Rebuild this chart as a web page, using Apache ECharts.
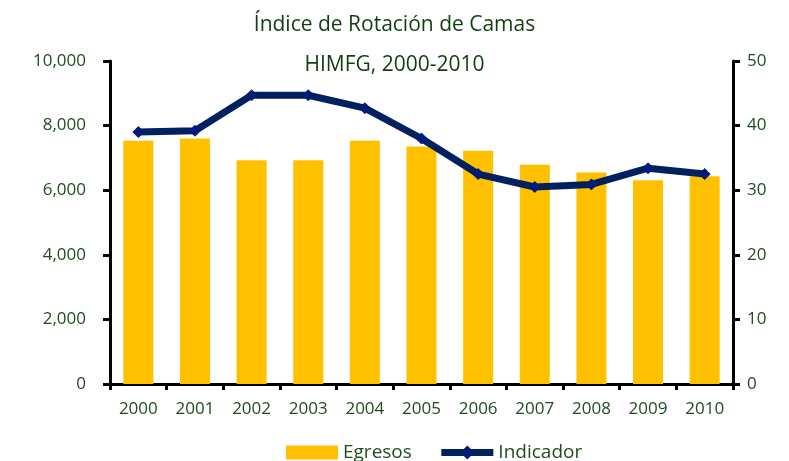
<!DOCTYPE html>
<html>
<head>
<meta charset="utf-8">
<script src="https://cdn.jsdelivr.net/npm/echarts@6/dist/echarts.min.js"></script>
<style>
  html, body { margin: 0; padding: 0; background: #fff; }
  #chart { width: 789px; height: 461px; }
</style>
</head>
<body>
<div id="chart"></div>
<script>
// datos
const years = ['2000', '2001', '2002', '2003', '2004', '2005', '2006', '2007', '2008', '2009', '2010'];
const egresos = [7530, 7600, 6930, 6930, 7530, 7350, 7220, 6790, 6550, 6310, 6430];
const indicador = [39.0, 39.2, 44.7, 44.7, 42.7, 38.0, 32.5, 30.5, 30.9, 33.4, 32.5];

const fontFam = '"Open Sans", "Lato", sans-serif';
const textGreen = '#1e4d1e';

const chart = echarts.init(document.getElementById('chart'));

const axisStyle = {
  axisLine: { show: true, lineStyle: { color: '#000', width: 3 } },
  axisTick: { show: true, length: 7, lineStyle: { color: '#000', width: 3 } },
  splitLine: { show: false }
};

chart.setOption({
  animation: false,
  title: {
    text: 'Índice de Rotación de Camas\nHIMFG, 2000-2010',
    left: 'center',
    top: 0,
    textStyle: {
      fontFamily: fontFam,
      fontSize: 21,
      fontWeight: 'normal',
      color: '#0f3f0f',
      lineHeight: 40
    }
  },
  legend: {
    top: 438,
    left: 281,
    itemWidth: 52,
    itemHeight: 14,
    itemGap: 26,
    textStyle: { fontFamily: fontFam, fontSize: 19, color: textGreen },
    data: [
      { name: 'Egresos', icon: 'rect' },
      { name: 'Indicador', lineStyle: { width: 7 } }
    ]
  },
  grid: { left: 110, right: 56, top: 61, bottom: 77 },
  xAxis: {
    type: 'category',
    data: years,
    boundaryGap: true,
    ...axisStyle,
    axisTick: { show: true, length: 6, alignWithLabel: false, lineStyle: { color: '#000', width: 3 } },
    axisLabel: { fontFamily: fontFam, fontSize: 17, color: textGreen, margin: 17 }
  },
  yAxis: [
    {
      type: 'value',
      min: 0, max: 10000, interval: 2000,
      position: 'left',
      ...axisStyle,
      axisLabel: {
        fontFamily: fontFam, fontSize: 17, color: textGreen, margin: 24,
        formatter: v => v.toLocaleString('en-US')
      }
    },
    {
      type: 'value',
      min: 0, max: 50, interval: 10,
      position: 'right',
      ...axisStyle,
      axisLabel: { fontFamily: fontFam, fontSize: 17, color: textGreen, margin: 14 }
    }
  ],
  series: [
    {
      name: 'Egresos',
      type: 'bar',
      data: egresos,
      barWidth: 30,
      itemStyle: { color: '#ffc000' }
    },
    {
      name: 'Indicador',
      type: 'line',
      yAxisIndex: 1,
      data: indicador,
      symbol: 'diamond',
      symbolSize: 11,
      lineStyle: { color: '#002060', width: 7 },
      itemStyle: { color: '#001a80', borderColor: '#002060', borderWidth: 1 }
    }
  ]
});
</script>
</body>
</html>
